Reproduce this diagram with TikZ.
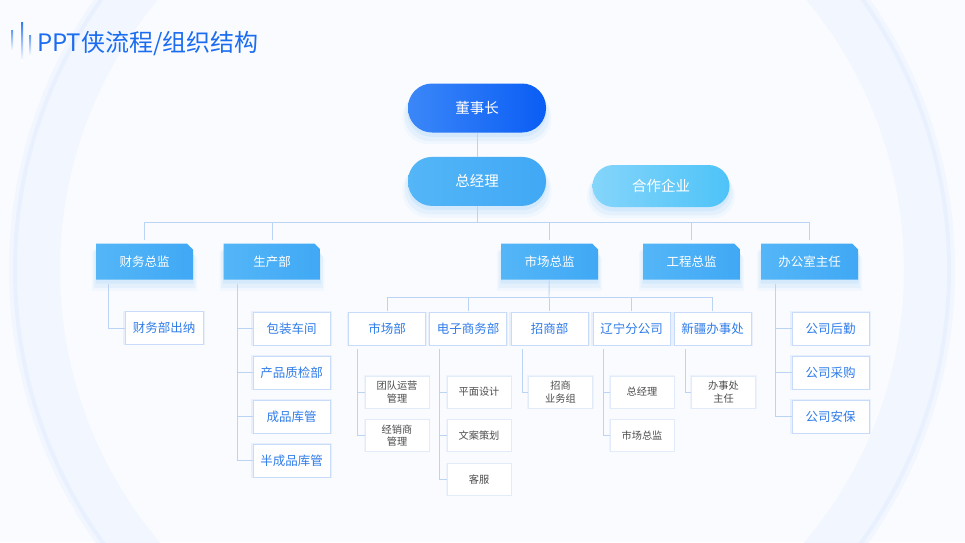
\documentclass[tikz,border=0pt]{standalone}
\usepackage{fontspec}
\setmainfont{Noto Sans CJK SC}
\usetikzlibrary{positioning,shapes.misc,shadows,calc}
\definecolor{bgcol}{HTML}{FAFBFF}
\definecolor{ringcol}{HTML}{F2F6FE}
\definecolor{ringline}{HTML}{EAF1FE}
\definecolor{titleblue}{HTML}{1A6CF0}
\definecolor{linkblue}{HTML}{BBD3F5}
\definecolor{unitline}{HTML}{C8DCFA}
\definecolor{subline}{HTML}{E2EBFA}
\definecolor{unittext}{HTML}{2F7CE9}
\definecolor{subtext}{HTML}{4D4D4D}
\definecolor{chairL}{HTML}{3B87F8}
\definecolor{chairR}{HTML}{0A5DF5}
\definecolor{gmL}{HTML}{54B6F7}
\definecolor{gmR}{HTML}{40A8F5}
\definecolor{partL}{HTML}{84D5FA}
\definecolor{partR}{HTML}{4EC3F8}
\definecolor{glowcol}{HTML}{8CCBFA}

\begin{document}
\begin{tikzpicture}[x=1pt,y=-1pt,
    link/.style={draw=linkblue, line width=0.9pt},
    glow/.style={general shadow={fill=glowcol, opacity=.08, shadow yshift=-9pt, shadow scale=1.08},
                 general shadow={fill=glowcol, opacity=.12, shadow yshift=-7pt, shadow scale=1.05},
                 general shadow={fill=glowcol, opacity=.18, shadow yshift=-4pt, shadow scale=1.01}},
    pill/.style={rectangle, rounded corners=24pt, minimum width=138pt, minimum height=49pt,
                 text=white, font=\fontsize{14.5}{16}\selectfont, glow},
    dept/.style={chamfered rectangle, chamfered rectangle corners=north east,
                 chamfered rectangle xsep=3pt, chamfered rectangle ysep=3pt,
                 minimum width=97pt, minimum height=36pt, inner sep=0pt,
                 left color=gmL, right color=gmR, text=white,
                 font=\fontsize{12.5}{14}\selectfont, glow},
    unit/.style={rectangle, fill=white, draw=unitline, line width=1pt,
                 minimum width=77pt, minimum height=33pt, inner sep=0pt,
                 text=unittext, font=\fontsize{12.5}{14}\selectfont,
                 general shadow={fill=unitline, opacity=.35, shadow scale=1.04}},
    sub/.style={rectangle, fill=white, draw=subline, line width=0.8pt,
                minimum width=64pt, minimum height=32pt, inner sep=0pt, align=center,
                text=subtext, font=\fontsize{10.2}{12.5}\selectfont,
                general shadow={fill=subline, opacity=.5, shadow scale=1.04}},
]
    \useasboundingbox (0,0) rectangle (965,542);
    % background
    \begin{scope}
        \clip (0,0) rectangle (965,542);
        \fill[bgcol] (0,0) rectangle (965,542);
        \fill[ringcol, even odd rule] (482,270) circle[radius=473] (482,270) circle[radius=422];
        \draw[ringline, line width=4pt] (482,270) circle[radius=467];
    \end{scope}

    % title
    \shade[top color=titleblue!70, bottom color=titleblue!0] (11,30) rectangle (13,51);
    \shade[top color=titleblue!90, bottom color=titleblue!0] (21,22) rectangle (23,61);
    \shade[top color=titleblue!70, bottom color=titleblue!0] (29,35) rectangle (31,56);
    \node[anchor=west, text=titleblue, font=\fontsize{24}{26}\selectfont, inner sep=0pt]
        (title) at (37,44) {PPT侠流程/组织结构};

    % top levels
    \node[pill, left color=chairL, right color=chairR] (chair) at (477,108) {董事长};
    \node[pill, left color=gmL, right color=gmR, below=24pt of chair] (gm) {总经理};
    \node[pill, left color=partL, right color=partR, rounded corners=21pt,
          minimum width=137pt, minimum height=42pt] (partner) at (661,186) {合作企业};

    \coordinate (bus) at (477,222);
    \coordinate (bus2) at (549,297);

    % departments
    \foreach \x/\name/\txt in {144.5/fin/财务总监, 272/prod/生产部, 549.5/mkt/市场总监,
                               691.5/eng/工程总监, 809.5/office/办公室主任}
        \node[dept] (\name) at (\x,261.5) {\txt};

    % market units
    \foreach \x/\name/\txt in {387/mktdept/市场部, 468/ecom/电子商务部, 549.5/invest/招商部,
                               631.5/liaoning/辽宁分公司, 712.5/xinjiang/新疆办事处}
        \node[unit] (\name) at (\x,329) {\txt};

    % finance / production / office units
    \node[unit, minimum width=78pt] (cashier) at (164,328) {财务部出纳};
    \node[unit] (pack) at (291.5,328.5) {包装车间};
    \node[unit, below=10pt of pack] (quality) {产品质检部};
    \node[unit, below=10pt of quality] (goods) {成品库管};
    \node[unit, below=10pt of goods] (semi) {半成品库管};
    \node[unit] (logistics) at (830.5,328.5) {公司后勤};
    \node[unit, below=10pt of logistics] (purchase) {公司采购};
    \node[unit, below=10pt of purchase] (security) {公司安保};

    % small units
    \node[sub] (team) at (397,392) {团队运营\\管理};
    \node[sub, below=11pt of team] (dealer) {经销商\\管理};
    \node[sub] (design) at (479,392) {平面设计};
    \node[sub, below=11pt of design] (copy) {文案策划};
    \node[sub, below=11pt of copy] (service) {客服};
    \node[sub] (investgrp) at (560.5,392) {招商\\业务组};
    \node[sub] (lngm) at (642,392) {总经理};
    \node[sub, below=11pt of lngm] (lnmkt) {市场总监};
    \node[sub] (xjhead) at (723.5,392) {办事处\\主任};

    % links, top
    \draw[link] (chair) -- (gm);
    \draw[link] (gm) -- (bus);
    \draw[link] (fin.north |- bus) -- (office.north |- bus);
    \foreach \name in {fin,prod,mkt,eng,office}
        \draw[link, shorten <=3pt] (\name.north) -- (\name.north |- bus);

    % links, market
    \draw[link] (mkt) -- (bus2);
    \draw[link] (mktdept.north |- bus2) -- (xinjiang.north |- bus2);
    \foreach \name in {mktdept,ecom,invest,liaoning,xinjiang}
        \draw[link, shorten <=1pt] (\name.north) -- (\name.north |- bus2);

    % links, branches
    \draw[link] ($(fin.south)+(-36.5,4)$) |- (cashier.west);
    \foreach \name in {pack,quality,goods,semi}
        \draw[link] ($(prod.south)+(-35,4)$) |- (\name.west);
    \foreach \name in {logistics,purchase,security}
        \draw[link] ($(office.south)+(-34.5,4)$) |- (\name.west);
    \foreach \name in {team,dealer}
        \draw[link] ($(mktdept.south)+(-30,3)$) |- (\name.west);
    \foreach \name in {design,copy,service}
        \draw[link] ($(ecom.south)+(-29,3)$) |- (\name.west);
    \draw[link] ($(invest.south)+(-27.5,3)$) |- (investgrp.west);
    \foreach \name in {lngm,lnmkt}
        \draw[link] ($(liaoning.south)+(-28.5,3)$) |- (\name.west);
    \draw[link] ($(xinjiang.south)+(-27.5,3)$) |- (xjhead.west);
\end{tikzpicture}
\end{document}
